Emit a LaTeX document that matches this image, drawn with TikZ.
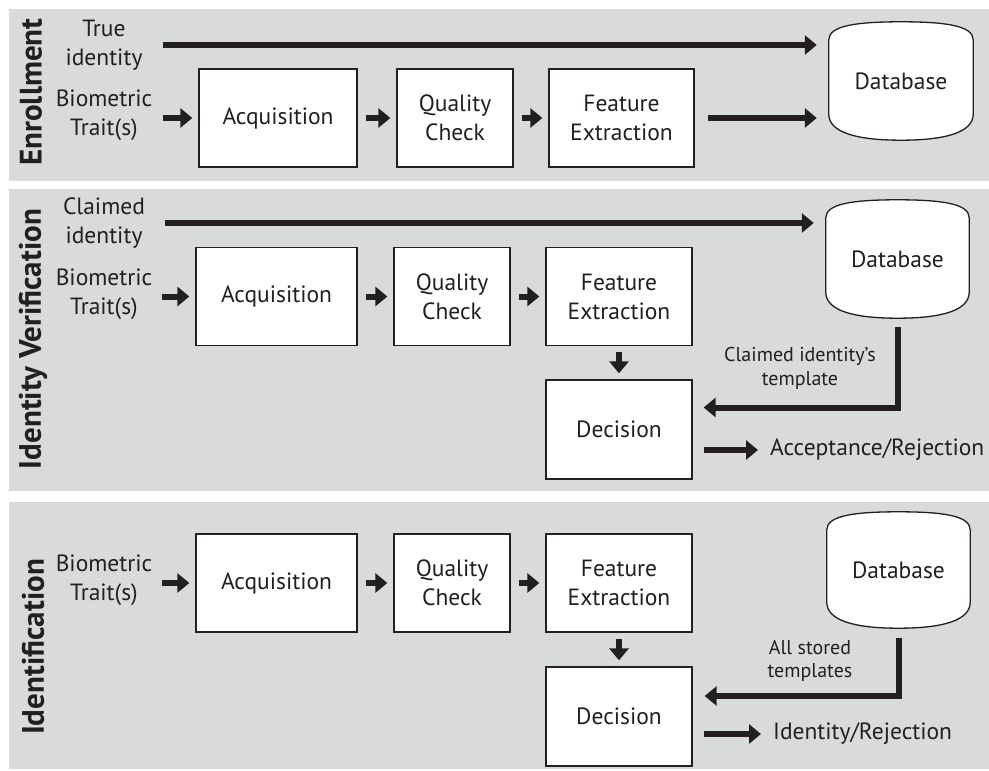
\documentclass[tikz,border=0pt]{standalone}
\usepackage{fontspec}
\setmainfont{PT Sans}
\usetikzlibrary{arrows.meta,calc,backgrounds}

\definecolor{panelgray}{RGB}{217,218,219}
\definecolor{ink}{RGB}{35,31,32}

\tikzset{
  panel/.style={fill=panelgray, draw=none},
  stage/.style={draw=ink, line width=1.3pt, fill=white, text=ink, align=center,
    minimum height=98pt, inner sep=0pt, font=\fontsize{23.5}{29}\selectfont},
  drumnode/.style={draw=none, fill=none, text=ink, minimum width=144pt,
    minimum height=118pt, inner sep=0pt, font=\fontsize{23.5}{29}\selectfont},
  plain/.style={text=ink, align=center, inner sep=0pt, font=\fontsize{23.5}{29}\selectfont},
  small/.style={text=ink, align=center, inner sep=0pt, font=\fontsize{20}{23.5}\selectfont},
  title/.style={text=ink, rotate=90, inner sep=0pt, font=\fontsize{31}{34}\bfseries\selectfont},
  flow/.style={draw=ink, line width=6pt,
    -{Triangle[length=12pt,width=19pt]}},
  step gap/.style={shorten <=8pt, shorten >=6pt},
}

% database drum outline around a node
\newcommand\drawdrum[1]{%
  \draw[draw=ink, line width=1.3pt, fill=white]
    ($(#1.north west)+(0,18)$)
      .. controls ($(#1.north west)+(0,4)$) and ($(#1.north)+(-45,0)$) .. (#1.north)
      .. controls ($(#1.north)+(45,0)$) and ($(#1.north east)+(0,4)$) .. ($(#1.north east)+(0,18)$)
    -- ($(#1.south east)+(0,-26)$)
      .. controls ($(#1.south east)+(0,-8)$) and ($(#1.south)+(45,0)$) .. (#1.south)
      .. controls ($(#1.south)+(-45,0)$) and ($(#1.south west)+(0,-8)$) .. ($(#1.south west)+(0,-26)$)
    -- cycle;}

\begin{document}
\begin{tikzpicture}[x=1pt, y=-1pt]
\useasboundingbox (0,0) rectangle (989,771);

\begin{scope}[on background layer]
  \fill[panel] (9,9) rectangle (989,181);
  \fill[panel] (9,189) rectangle (989,491);
  \fill[panel] (9,502) rectangle (989,769);
\end{scope}

% ---------------- Enrollment ----------------
\node[title] (t1) at (31,92) {Enrollment};
\node[plain] (true1) at (104,45) {True\\identity};
\node[plain] (bio1) at (104,115) {Biometric\\Trait(s)};
\node[stage, minimum width=158pt] (acq1) at (278,118) {Acquisition};
\node[stage, minimum width=116pt] (qc1) at (455,118) {Quality\\Check};
\node[stage, minimum width=145pt] (fe1) at (621.5,118) {Feature\\Extraction};
\node[drumnode] (db1) at (901,81) {Database};
\begin{scope}[on background layer]\drawdrum{db1}\end{scope}

\draw[flow, shorten <=20pt, shorten >=12pt] (true1.east) -- (true1.east -| db1.west);
\draw[flow, shorten <=11pt, shorten >=6pt] (bio1.east |- acq1.west) -- (acq1.west);
\draw[flow, step gap] (acq1) -- (qc1);
\draw[flow, step gap] (qc1) -- (fe1);
\draw[flow, shorten <=13pt, shorten >=12pt] (fe1.east) -- (fe1.east -| db1.west);

% ---------------- Identity Verification ----------------
\node[title] (t2) at (33,339) {Identity Verification};
\node[plain] (claim2) at (104,223) {Claimed\\identity};
\node[plain] (bio2) at (104,294) {Biometric\\Trait(s)};
\node[stage, minimum width=161pt] (acq2) at (276.5,296.5) {Acquisition};
\node[stage, minimum width=116pt] (qc2) at (452,296.5) {Quality\\Check};
\node[stage, minimum width=146pt] (fe2) at (619,296.5) {Feature\\Extraction};
\node[stage, minimum width=146pt, minimum height=99pt] (dec2) at (619,429.5) {Decision};
\node[drumnode, minimum width=143pt] (db2) at (897.5,259) {Database};
\begin{scope}[on background layer]\drawdrum{db2}\end{scope}
\node[small] (tmpl2) at (800,368.5) {Claimed identity's\\template};
\node[plain, anchor=west] (out2) at (770,450) {Acceptance/Rejection};

\draw[flow, shorten <=20pt, shorten >=12pt] (claim2.east) -- (claim2.east -| db2.west);
\draw[flow, shorten <=10pt, shorten >=6pt] (bio2.east |- acq2.west) -- (acq2.west);
\draw[flow, step gap] (acq2) -- (qc2);
\draw[flow, step gap] (qc2) -- (fe2);
\draw[flow, shorten <=6pt, shorten >=6pt] (fe2) -- (dec2);
\draw[flow, shorten <=9pt, shorten >=11pt] (db2.south) |- ([yshift=22pt]dec2.east);
\draw[flow, shorten <=11pt, shorten >=12pt] (dec2.east |- out2.west) -- (out2.west);

% ---------------- Identification ----------------
\node[title] (t3) at (33,647) {Identification};
\node[plain] (bio3) at (104,580) {Biometric\\Trait(s)};
\node[stage, minimum width=161pt] (acq3) at (276.5,583) {Acquisition};
\node[stage, minimum width=116pt] (qc3) at (452,583) {Quality\\Check};
\node[stage, minimum width=146pt] (fe3) at (619,583) {Feature\\Extraction};
\node[stage, minimum width=146pt, minimum height=99pt] (dec3) at (619,716.5) {Decision};
\node[drumnode, minimum width=143pt, minimum height=116pt] (db3) at (898.5,570) {Database};
\begin{scope}[on background layer]\drawdrum{db3}\end{scope}
\node[small] (tmpl3) at (810,661) {All stored\\templates};
\node[plain, anchor=west] (out3) at (773,734) {Identity/Rejection};

\draw[flow, shorten <=10pt, shorten >=6pt] (bio3.east |- acq3.west) -- (acq3.west);
\draw[flow, step gap] (acq3) -- (qc3);
\draw[flow, step gap] (qc3) -- (fe3);
\draw[flow, shorten <=6pt, shorten >=6pt] (fe3) -- (dec3);
\draw[flow, shorten <=10pt, shorten >=12pt] (db3.south) |- ([yshift=20.5pt]dec3.east);
\draw[flow, shorten <=11pt, shorten >=12pt] (dec3.east |- out3.west) -- (out3.west);
\end{tikzpicture}
\end{document}
